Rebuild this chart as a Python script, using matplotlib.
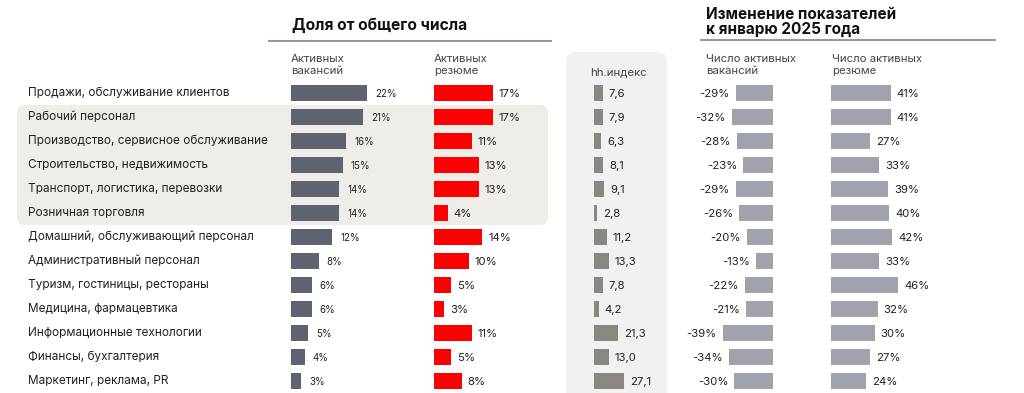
import matplotlib.pyplot as plt
from matplotlib.patches import FancyBboxPatch

# ---------------------- Data ---------------------- #
categories = [
    "Продажи, обслуживание клиентов",
    "Рабочий персонал",
    "Производство, сервисное обслуживание",
    "Строительство, недвижимость",
    "Транспорт, логистика, перевозки",
    "Розничная торговля",
    "Домашний, обслуживающий персонал",
    "Административный персонал",
    "Туризм, гостиницы, рестораны",
    "Медицина, фармацевтика",
    "Информационные технологии",
    "Финансы, бухгалтерия",
    "Маркетинг, реклама, PR",
]
share_vacancies = [22, 21, 16, 15, 14, 14, 12, 8, 6, 6, 5, 4, 3]
share_resumes = [17, 17, 11, 13, 13, 4, 14, 10, 5, 3, 11, 5, 8]
hh_index = [7.6, 7.9, 6.3, 8.1, 9.1, 2.8, 11.2, 13.3, 7.8, 4.2, 21.3, 13.0, 27.1]
change_vacancies = [-29, -32, -28, -23, -29, -26, -20, -13, -22, -21, -39, -34, -30]
change_resumes = [41, 41, 27, 33, 39, 40, 42, 33, 46, 32, 30, 27, 24]

# ---------------------- Style ---------------------- #
plt.rcParams["font.family"] = ["Inter", "DejaVu Sans"]
C_VAC = "#5f6370"
C_RES = "#ff0000"
C_HH = "#8a8780"
C_CHG = "#a0a3ab"
C_TXT = "#222222"

fig = plt.figure(figsize=(10.24, 3.93), dpi=100)
ax = fig.add_axes([0, 0, 1, 1])
ax.set_xlim(0, 1024)
ax.set_ylim(393, 0)
ax.axis("off")

y0, step, bh = 93, 24, 16
ys = [y0 + i * step for i in range(len(categories))]

# highlight box and hh.index panel
ax.add_patch(FancyBboxPatch((17, 105), 531, 120, boxstyle="round,pad=0,rounding_size=8",
                            fc="#efede8", ec="none", zorder=0))
ax.add_patch(FancyBboxPatch((566, 52), 101, 360, boxstyle="round,pad=0,rounding_size=10",
                            fc="#f1f1f1", ec="none", zorder=0))

# titles
ax.text(292, 25, "Доля от общего числа", fontsize=11.2, fontweight="bold", color="#111111",
        va="center")
ax.plot([269, 551], [41, 41], color="#9a9a9a", lw=1.5)
ax.text(706, 22, "Изменение показателей\nк январю 2025 года", fontsize=11, fontweight="bold",
        color="#111111", va="center", linespacing=1.05)
ax.plot([701, 995], [40, 40], color="#9a9a9a", lw=1.5)

sub = dict(fontsize=8.2, color="#444444", va="center", linespacing=1.3)
ax.text(291, 65, "Активных\nвакансий", **sub)
ax.text(434, 65, "Активных\nрезюме", **sub)
ax.text(590, 72, "hh.индекс", **sub)
ax.text(706, 65, "Число активных\nвакансий", **sub)
ax.text(832, 65, "Число активных\nрезюме", **sub)

# category labels
for y, c in zip(ys, categories):
    ax.text(28, y, c, fontsize=8.5, color=C_TXT, va="center")

# share of vacancies
k_share = 3.45
ax.barh(ys, [v * k_share for v in share_vacancies], left=291, height=bh, color=C_VAC)
for y, v in zip(ys, share_vacancies):
    ax.text(291 + v * k_share + 8, y + 1, f"{v}%", fontsize=7, color=C_TXT, va="center")

# share of resumes
ax.barh(ys, [v * k_share for v in share_resumes], left=434, height=bh, color=C_RES)
for y, v in zip(ys, share_resumes):
    ax.text(434 + v * k_share + 6, y + 1, f"{v}%", fontsize=8.2, color=C_TXT, va="center")

# hh.index
k_hh = 1.12
ax.barh(ys, [v * k_hh for v in hh_index], left=594, height=bh, color=C_HH)
for y, v in zip(ys, hh_index):
    lbl = f"{v:.1f}".replace(".", ",")
    ax.text(594 + v * k_hh + 6, y + 1, lbl, fontsize=8.2, color=C_TXT, va="center")

# change in vacancies (drawn leftwards from 773)
k_cv = 1.29
ax.barh(ys, [v * k_cv for v in change_vacancies], left=773, height=bh, color=C_CHG)
for y, v in zip(ys, change_vacancies):
    ax.text(773 + v * k_cv - 6, y + 1, f"{v}%", fontsize=8.2, color=C_TXT, va="center",
            ha="right")

# change in resumes
k_cr = 1.46
ax.barh(ys, [v * k_cr for v in change_resumes], left=831, height=bh, color=C_CHG)
for y, v in zip(ys, change_resumes):
    ax.text(831 + v * k_cr + 6, y + 1, f"{v}%", fontsize=8.2, color=C_TXT, va="center")

fig.savefig("out.png", dpi=100)
